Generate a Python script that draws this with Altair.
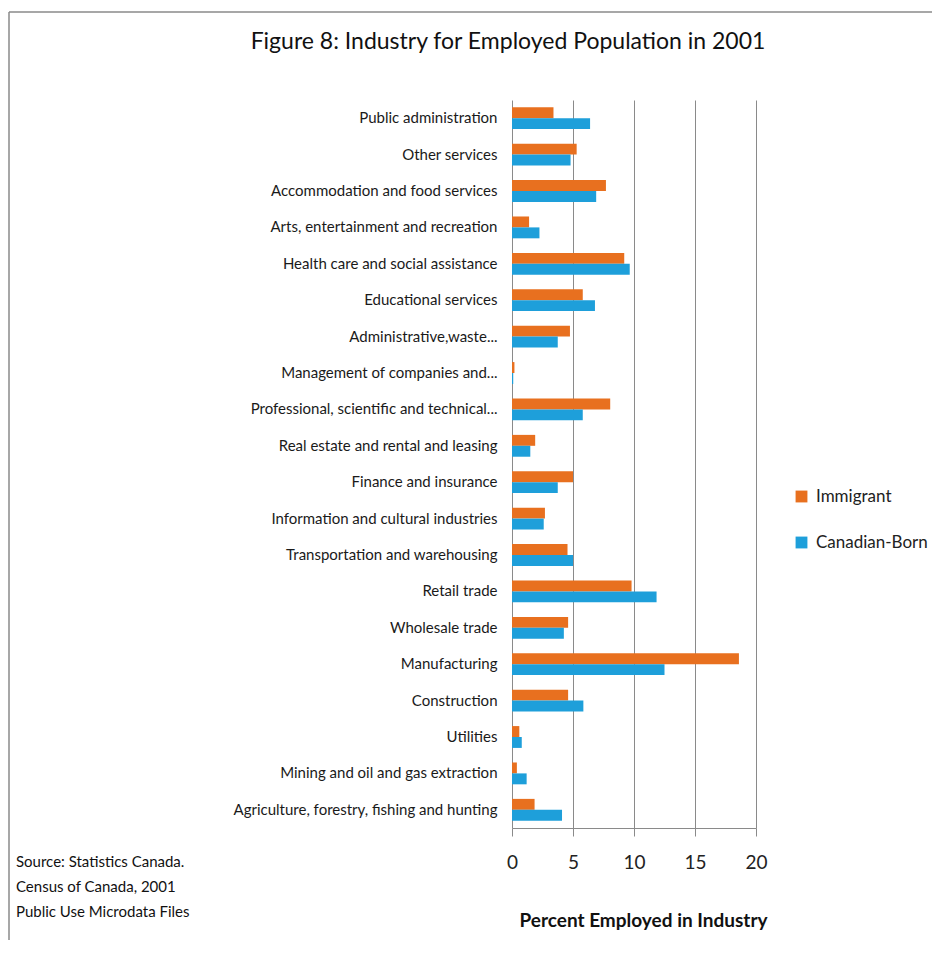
import altair as alt
import pandas as pd

industries = [
    "Public administration",
    "Other services",
    "Accommodation and food services",
    "Arts, entertainment and recreation",
    "Health care and social assistance",
    "Educational services",
    "Administrative,waste...",
    "Management of companies and...",
    "Professional, scientific and technical...",
    "Real estate and rental and leasing",
    "Finance and insurance",
    "Information and cultural industries",
    "Transportation and warehousing",
    "Retail trade",
    "Wholesale trade",
    "Manufacturing",
    "Construction",
    "Utilities",
    "Mining and oil and gas extraction",
    "Agriculture, forestry, fishing and hunting",
]
immigrant = [3.4, 5.3, 7.7, 1.4, 9.2, 5.8, 4.75, 0.2, 8.05, 1.9, 5.0, 2.7, 4.55,
             9.8, 4.6, 18.6, 4.6, 0.6, 0.4, 1.85]
canadian_born = [6.4, 4.8, 6.9, 2.25, 9.65, 6.8, 3.75, 0.1, 5.8, 1.5, 3.75, 2.6, 5.0,
                 11.85, 4.25, 12.5, 5.85, 0.8, 1.2, 4.1]
series = ["Immigrant", "Canadian-Born"]
colors = ["#E8701F", "#1E9FDA"]
x_ticks = [0, 5, 10, 15, 20]
title_text = "Figure 8: Industry for Employed Population in 2001"
source_lines = ["Source: Statistics Canada.", "Census of Canada, 2001", "Public Use Microdata Files"]

rows = []
for i, ind in enumerate(industries):
    rows.append({"Industry": ind, "Series": series[0], "Value": immigrant[i]})
    rows.append({"Industry": ind, "Series": series[1], "Value": canadian_born[i]})
df = pd.DataFrame(rows)

FONT = "Lato, sans-serif"

bars = alt.Chart(df).mark_bar().encode(
    x=alt.X("Value:Q",
            scale=alt.Scale(domain=[0, 20], nice=False),
            axis=alt.Axis(values=x_ticks, title="Percent Employed in Industry",
                          grid=True, gridColor="#8a8a8a", gridWidth=1,
                          domainColor="#8a8a8a", tickColor="#8a8a8a", tickSize=8,
                          labelFontSize=19, labelFont=FONT, labelColor="#222",
                          labelPadding=17, labelFlush=False,
                          titleFontSize=19, titleFont=FONT,
                          titleFontWeight="bold", titleColor="#111", titlePadding=39,
                          titleX=131)),
    y=alt.Y("Industry:N", sort=industries,
            scale=alt.Scale(paddingInner=0.4, paddingOuter=0.2),
            axis=alt.Axis(title=None, ticks=False, domain=False, labelFontSize=15,
                          labelFont=FONT, labelColor="#1a1a1a", labelPadding=15,
                          labelLimit=320)),
    yOffset=alt.YOffset("Series:N", sort=series),
    color=alt.Color("Series:N", sort=series,
                    scale=alt.Scale(domain=series, range=colors),
                    legend=alt.Legend(title=None, orient="none", legendX=281, legendY=388,
                                      symbolType="square", symbolSize=140,
                                      labelFontSize=17, labelFont=FONT, labelColor="#222",
                                      rowPadding=28, labelOffset=6)),
)

src_df = pd.DataFrame({"t": [source_lines]})
source = alt.Chart(src_df).mark_text(
    align="left", baseline="top", fontSize=15, font=FONT, color="#111", lineHeight=25
).encode(text="t", x=alt.value(-496), y=alt.value(755))

title_df = pd.DataFrame({"t": [title_text]})
title = alt.Chart(title_df).mark_text(
    align="center", baseline="middle", fontSize=23, font=FONT, color="#111"
).encode(text="t", x=alt.value(-4), y=alt.value(-58))

border_left = alt.Chart(src_df).mark_rule(color="#8a8a8a", strokeWidth=1.5).encode(
    x=alt.value(-503), y=alt.value(-88), y2=alt.value(840))
border_top = alt.Chart(src_df).mark_rule(color="#8a8a8a", strokeWidth=1.5).encode(
    x=alt.value(-503), x2=alt.value(420), y=alt.value(-88))

chart = alt.layer(border_left, border_top, bars, source, title).properties(
    width=244, height=728,
    autosize=alt.AutoSizeParams(type="none"),
    padding={"left": 504, "top": 92, "right": 176, "bottom": 118},
).configure_view(strokeWidth=0)

chart.save("out.html", embed_options={"renderer": "svg", "actions": False})
